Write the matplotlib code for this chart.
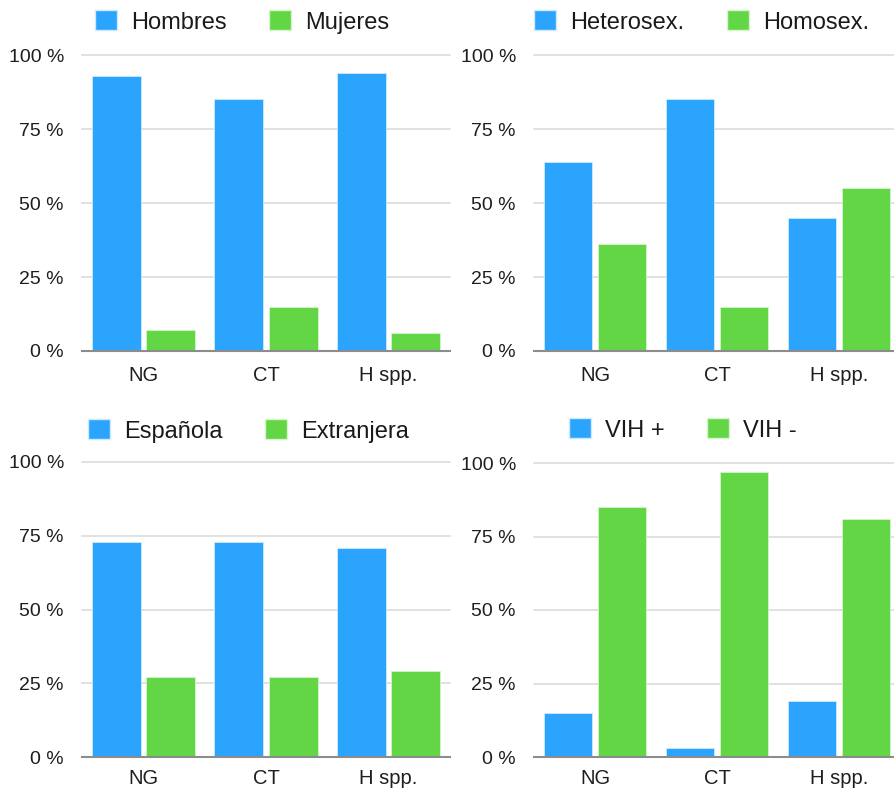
import matplotlib.pyplot as plt
import numpy as np
from matplotlib.patches import Patch
from matplotlib.ticker import FuncFormatter

plt.rcParams['font.family'] = ['Liberation Sans', 'DejaVu Sans']

# ---------------------------------------------------------
# datos
# ---------------------------------------------------------
categorias = ["NG", "CT", "H spp."]

sexo_labels = ["Hombres", "Mujeres"]
hombres = [93, 85, 94]
mujeres = [7, 15, 6]

orient_labels = ["Heterosex.", "Homosex."]
heterosex = [64, 85, 45]
homosex = [36, 15, 55]

nac_labels = ["Española", "Extranjera"]
espanola = [73, 73, 71]
extranjera = [27, 27, 29]

vih_labels = ["VIH +", "VIH -"]
vih_pos = [15, 3, 19]
vih_neg = [85, 97, 81]

AZUL = "#2AA4FD"
VERDE = "#63D646"

W, H = 895, 792
fig = plt.figure(figsize=(W / 100, H / 100), dpi=100)

# (left px, right px, y0 px, y100 px, legend x px, legend y px, x-label pad)
paneles = [
    (82, 450, 351, 55, 95, 22, 11, sexo_labels, hombres, mujeres),
    (534, 900, 351, 55, 534, 22, 11, orient_labels, heterosex, homosex),
    (82, 450, 757, 462, 88, 431, 9, nac_labels, espanola, extranjera),
    (534, 900, 757, 463, 569, 430, 9, vih_labels, vih_pos, vih_neg),
]

x = np.arange(len(categorias))
ancho = 0.4
off = 0.222

for (l, r, y0, y100, lx, ly, xpad, labels, s1, s2) in paneles:
    ax = fig.add_axes([l / W, 1 - y0 / H, (r - l) / W, (y0 - y100) / H])
    ax.bar(x - off, s1, ancho, color=AZUL, edgecolor="#CFE9FF", linewidth=0.6, zorder=3)
    ax.bar(x + off, s2, ancho, color=VERDE, edgecolor="#D6F5CC", linewidth=0.6, zorder=3)
    ax.set_xlim(-0.5, 2.5)
    ax.set_ylim(0, 100)
    ax.set_yticks([0, 25, 50, 75, 100])
    ax.yaxis.set_major_formatter(FuncFormatter(lambda v, p: f"{int(v)} %"))
    ax.set_xticks(x)
    ax.set_xticklabels(categorias)
    for s in ["top", "left", "right"]:
        ax.spines[s].set_visible(False)
    ax.spines["bottom"].set_color("#8C8C8C")
    ax.spines["bottom"].set_linewidth(1.5)
    ax.spines["bottom"].set_zorder(4)
    for v in [25, 50, 75, 100]:
        ax.axhline(v, color="#DCDCDC", linewidth=1.2, zorder=1, clip_on=False)
    ax.tick_params(axis="y", length=0, pad=13, labelsize=14, labelcolor="#1E1E1E")
    ax.tick_params(axis="x", length=0, pad=xpad, labelsize=14.5, labelcolor="#1E1E1E")

    handles = [Patch(facecolor=AZUL, edgecolor="#CFE9FF"),
               Patch(facecolor=VERDE, edgecolor="#D6F5CC")]
    fig.legend(handles, labels, loc="center left",
               bbox_to_anchor=(lx / W, 1 - ly / H), bbox_transform=fig.transFigure,
               ncol=2, frameon=False, fontsize=17, borderpad=0, borderaxespad=0,
               handlelength=0.93, handleheight=0.93, handletextpad=0.6,
               columnspacing=1.8, labelcolor="#1A1A1A")

plt.savefig("out.png", dpi=100)
